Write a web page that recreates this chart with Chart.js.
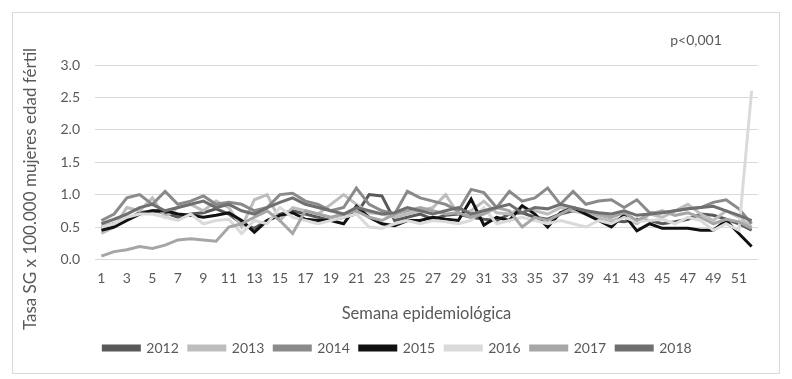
<!DOCTYPE html>
<html>
<head>
  <meta charset="utf-8">
  <script src="https://cdn.jsdelivr.net/npm/chart.js"></script>
  <style>
    body { margin: 0; background: #fff; }
    #box {
      position: absolute; left: 12px; top: 12px;
      width: 766px; height: 360px;
      border: 1px solid #d9d9d9;
    }
  </style>
</head>
<body>
  <div id="box"><canvas id="chart"></canvas></div>
  <script>
    var weeks = [];
    for (var w = 1; w <= 52; w++) weeks.push(String(w));

    var years = ['2012', '2013', '2014', '2015', '2016', '2017', '2018'];
    var colors = ['#595959', '#bdbdbd', '#8a8a8a', '#111111', '#dadada', '#a6a6a6', '#6f6f6f'];

    var y2012 = [0.5,0.55,0.62,0.72,0.75,0.72,0.65,0.7,0.72,0.78, 0.7,0.55,0.48,0.6,0.7,0.75,0.7,0.65,0.6,0.65,
                 0.7,1.0,0.98,0.6,0.65,0.7,0.62,0.68,0.7,0.65, 0.62,0.6,0.7,0.72,0.65,0.62,0.7,0.75,0.72,0.65,
                 0.6,0.58,0.62,0.6,0.55,0.58,0.62,0.7,0.68,0.62, 0.55,0.45];
    var y2013 = [0.4,0.5,0.8,0.75,0.95,0.65,0.8,0.85,0.75,0.9, 0.8,0.5,0.92,1.0,0.6,0.8,0.75,0.7,0.85,1.0,
                 0.85,0.72,0.7,0.65,0.7,0.75,0.8,1.0,0.7,0.75, 0.9,0.72,0.7,0.8,0.75,0.7,0.8,0.75,0.7,0.65,
                 0.6,0.65,0.55,0.7,0.65,0.75,0.85,0.7,0.6,0.75, 0.65,0.5];
    var y2014 = [0.6,0.7,0.95,1.0,0.85,1.05,0.85,0.9,0.98,0.85, 0.88,0.85,0.75,0.8,1.0,1.02,0.9,0.85,0.75,0.8,
                 1.1,0.85,0.75,0.7,1.05,0.95,0.9,0.85,0.75,1.08, 1.03,0.8,1.05,0.9,0.95,1.1,0.85,1.05,0.85,0.9,
                 0.92,0.8,0.92,0.72,0.72,0.75,0.78,0.8,0.88,0.92, 0.78,0.55];
    var y2015 = [0.45,0.5,0.6,0.7,0.75,0.75,0.7,0.68,0.65,0.68, 0.72,0.6,0.42,0.6,0.68,0.72,0.62,0.6,0.6,0.55,
                 0.82,0.65,0.55,0.52,0.6,0.6,0.65,0.62,0.6,0.93, 0.53,0.65,0.6,0.83,0.7,0.5,0.72,0.8,0.7,0.6,
                 0.5,0.69,0.44,0.55,0.48,0.48,0.48,0.45,0.45,0.6, 0.4,0.2];
    var y2016 = [0.5,0.55,0.65,0.7,0.7,0.65,0.6,0.7,0.55,0.6, 0.62,0.4,0.6,0.55,0.8,0.65,0.6,0.55,0.6,0.65,
                 0.7,0.5,0.48,0.55,0.6,0.55,0.6,0.58,0.55,0.6, 0.8,0.55,0.6,0.65,0.6,0.55,0.6,0.55,0.5,0.6,
                 0.55,0.65,0.58,0.6,0.62,0.55,0.65,0.6,0.45,0.55, 0.45,2.6];
    var y2017 = [0.05,0.12,0.15,0.2,0.17,0.22,0.3,0.32,0.3,0.28, 0.5,0.55,0.65,0.75,0.6,0.4,0.75,0.7,0.65,0.7,
                 0.75,0.65,0.6,0.7,0.75,0.8,0.75,0.7,0.72,0.65, 0.7,0.8,0.75,0.5,0.65,0.6,0.7,0.8,0.75,0.7,
                 0.65,0.72,0.6,0.7,0.75,0.68,0.72,0.65,0.55,0.62, 0.58,0.48];
    var y2018 = [0.55,0.62,0.7,0.8,0.85,0.75,0.8,0.85,0.9,0.8, 0.85,0.75,0.7,0.8,0.88,0.95,0.85,0.8,0.75,0.7,
                 0.8,0.75,0.7,0.72,0.8,0.75,0.7,0.75,0.8,0.7, 0.75,0.8,0.85,0.72,0.8,0.78,0.85,0.8,0.75,0.72,
                 0.7,0.75,0.68,0.7,0.72,0.75,0.78,0.8,0.82,0.75, 0.68,0.6];

    var series = [y2012, y2013, y2014, y2015, y2016, y2017, y2018];
    var font = 'Lato';
    var textColor = '#595959';

    var datasets = years.map(function (yr, i) {
      return {
        label: yr,
        data: series[i],
        borderColor: colors[i],
        backgroundColor: colors[i],
        borderWidth: 3,
        pointRadius: 0,
        tension: 0,
        fill: false,
        order: years.length - i
      };
    });

    // y title (centred lower than the plot, as in the original) and the p-value note
    var notes = {
      id: 'notes',
      afterLayout: function (chart) {
        // legend is centred on the whole frame, not on the plot
        if (chart.legend) { chart.legend.left += 12; chart.legend.right += 12; }
      },
      afterDraw: function (chart) {
        var ctx = chart.ctx, a = chart.chartArea;
        ctx.save();
        ctx.fillStyle = textColor;
        ctx.textAlign = 'center';
        ctx.textBaseline = 'middle';
        ctx.font = '14px ' + font;
        ctx.fillText('p<0,001', a.right - 62, a.top - 25);
        ctx.translate(18, 176);
        ctx.rotate(-Math.PI / 2);
        ctx.font = '17px ' + font;
        ctx.fillText('Tasa SG x 100.000 mujeres edad fértil', 0, 0);
        ctx.restore();
      }
    };

    new Chart(document.getElementById('chart'), {
      type: 'line',
      data: { labels: weeks, datasets: datasets },
      plugins: [notes],
      options: {
        responsive: true,
        maintainAspectRatio: false,
        animation: false,
        layout: { padding: { top: 52, right: 21, bottom: 8, left: 0 } },
        plugins: {
          tooltip: { enabled: false },
          legend: {
            position: 'bottom',
            labels: {
              boxWidth: 36,
              boxHeight: 4,
              padding: 10,
              color: textColor,
              font: { family: font, size: 14 },
              sort: function (a, b) { return a.datasetIndex - b.datasetIndex; }
            }
          }
        },
        scales: {
          x: {
            offset: true,
            grid: { display: false, drawTicks: false },
            border: { display: false },
            ticks: {
              autoSkip: false,
              maxRotation: 0,
              padding: 11,
              color: textColor,
              font: { family: font, size: 14 },
              callback: function (v, i) { return i % 2 === 0 ? weeks[i] : ''; }
            },
            title: {
              display: true,
              text: 'Semana epidemiológica',
              color: textColor,
              font: { family: font, size: 16.5 },
              padding: { top: 6, bottom: 7 }
            }
          },
          y: {
            min: 0,
            max: 3,
            afterFit: function (s) { s.width = 82; },
            grid: { color: '#d9d9d9', drawTicks: false },
            border: { display: false },
            ticks: {
              stepSize: 0.5,
              padding: 15,
              color: textColor,
              font: { family: font, size: 14 },
              callback: function (v) { return v.toFixed(1); }
            }
          }
        }
      }
    });
  </script>
</body>
</html>
